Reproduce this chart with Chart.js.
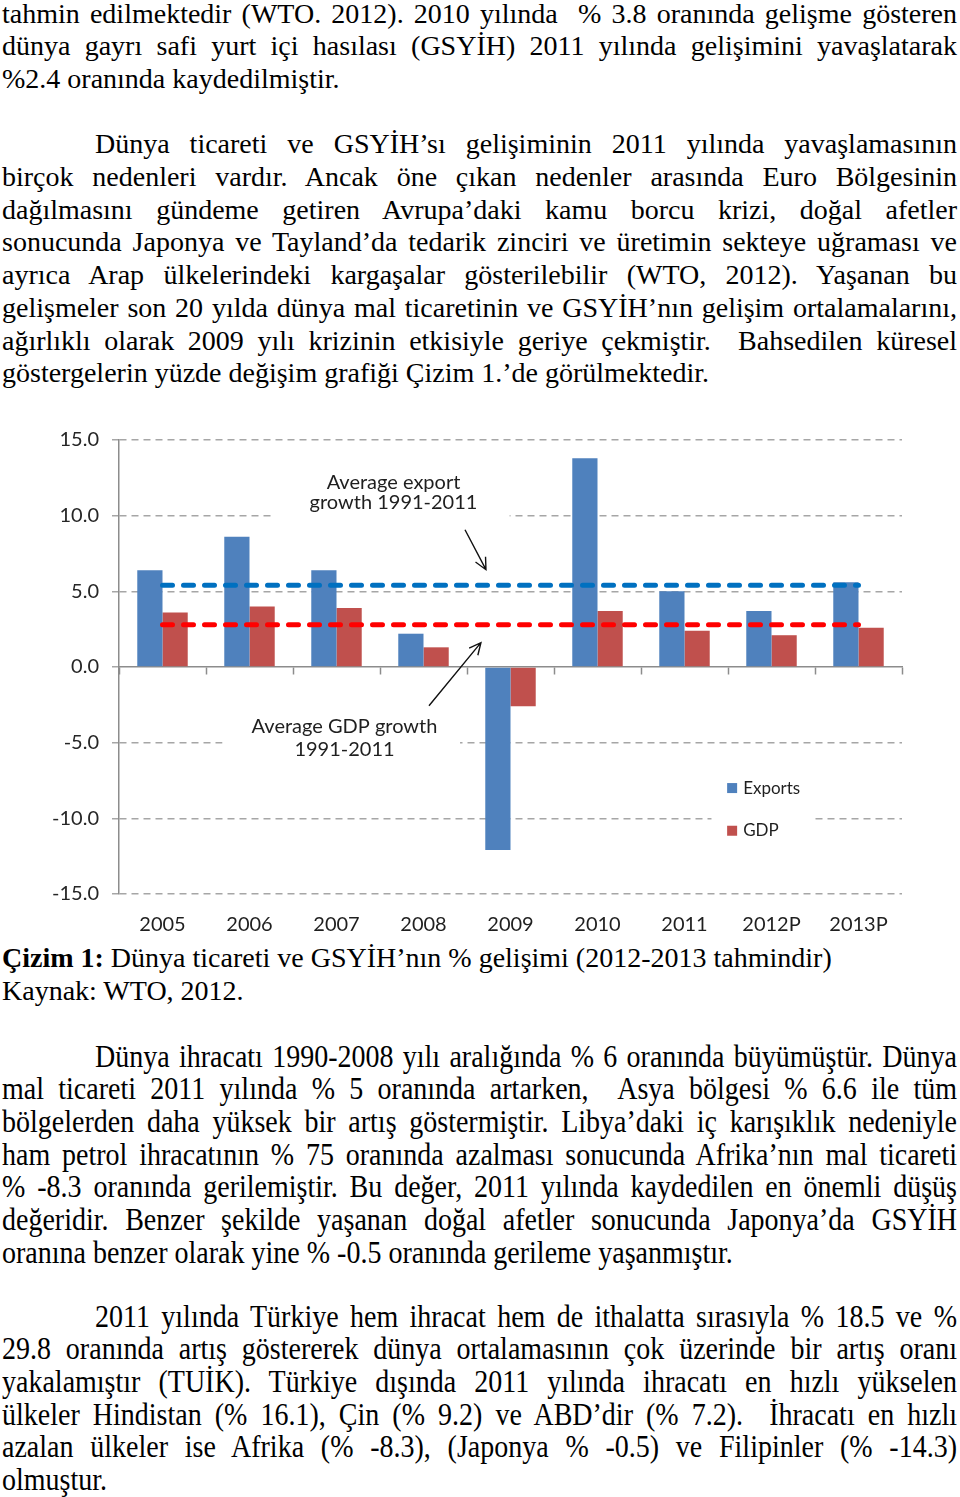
<!DOCTYPE html>
<html lang="tr">
  <head>
    <meta charset="UTF-8" />
    <title>Çizim 1: Dünya ticareti ve GSYİH’nın % gelişimi</title>
    <script src="https://cdn.jsdelivr.net/npm/chart.js"></script>
    <style>
      body {
        margin: 0;
        width: 960px;
        height: 1497px;
        position: relative;
        overflow: hidden;
        background: #fff;
        color: #000;
        font-family: "Liberation Serif", "Times New Roman", serif;
      }
      .line {
        position: absolute;
        left: 2px;
        width: 955px;
        height: 33px;
        line-height: 33px;
        font-size: 28px;
        white-space: nowrap;
      }
      .line.indent {
        left: 95px;
        width: 862px;
      }
      .line.just {
        white-space: normal;
        text-align: justify;
        text-align-last: justify;
      }
      /* the lower paragraphs are a bit taller in the scan */
      .line.tall {
        transform: scaleY(1.1);
        transform-origin: 0 26px;
      }
      #chartBox {
        position: absolute;
        left: 0;
        top: 420px;
        width: 960px;
        height: 525px;
      }
    </style>
  </head>
  <body>
    <div id="text"></div>
    <div id="chartBox"><canvas id="growthChart"></canvas></div>

    <script>
      // chart data
      var years = ["2005", "2006", "2007", "2008", "2009", "2010", "2011", "2012P", "2013P"];
      var exportsGrowth = [6.4, 8.6, 6.4, 2.2, -12.1, 13.8, 5.0, 3.7, 5.6];
      var gdpGrowth = [3.6, 4.0, 3.9, 1.3, -2.6, 3.7, 2.4, 2.1, 2.6];
      var avgExportGrowth = [5.4, 5.4, 5.4, 5.4, 5.4, 5.4, 5.4, 5.4, 5.4];
      var avgGdpGrowth = [2.8, 2.8, 2.8, 2.8, 2.8, 2.8, 2.8, 2.8, 2.8];
      var yTicks = [-15, -10, -5, 0, 5, 10, 15];

      // page text, one entry per printed line: [text, indent, justified]
      var block1 = [
        ["tahmin edilmektedir (WTO. 2012). 2010 yılında &nbsp;% 3.8 oranında gelişme gösteren", 0, 1],
        ["dünya gayrı safi yurt içi hasılası (GSYİH) 2011 yılında gelişimini yavaşlatarak", 0, 1],
        ["%2.4 oranında kaydedilmiştir.", 0, 0],
        null,
        ["Dünya ticareti ve GSYİH’sı gelişiminin 2011 yılında yavaşlamasının", 1, 1],
        ["birçok nedenleri vardır. Ancak öne çıkan nedenler arasında Euro Bölgesinin", 0, 1],
        ["dağılmasını gündeme getiren Avrupa’daki kamu borcu krizi, doğal afetler", 0, 1],
        ["sonucunda Japonya ve Tayland’da tedarik zinciri ve üretimin sekteye uğraması ve", 0, 1],
        ["ayrıca Arap ülkelerindeki kargaşalar gösterilebilir (WTO, 2012). Yaşanan bu", 0, 1],
        ["gelişmeler son 20 yılda dünya mal ticaretinin ve GSYİH’nın gelişim ortalamalarını,", 0, 1],
        ["ağırlıklı olarak 2009 yılı krizinin etkisiyle geriye çekmiştir. &nbsp;Bahsedilen küresel", 0, 1],
        ["göstergelerin yüzde değişim grafiği Çizim 1.’de görülmektedir.", 0, 0],
      ];
      var caption = [
        ["<b>Çizim 1:</b> Dünya ticareti ve GSYİH’nın % gelişimi (2012-2013 tahmindir)", 0, 0],
        ["Kaynak: WTO, 2012.", 0, 0],
      ];
      var block2 = [
        ["Dünya ihracatı 1990-2008 yılı aralığında % 6 oranında büyümüştür. Dünya", 1, 1],
        ["mal ticareti 2011 yılında % 5 oranında artarken, &nbsp;Asya bölgesi % 6.6 ile tüm", 0, 1],
        ["bölgelerden daha yüksek bir artış göstermiştir. Libya’daki iç karışıklık nedeniyle", 0, 1],
        ["ham petrol ihracatının % 75 oranında azalması sonucunda Afrika’nın mal ticareti", 0, 1],
        ["% -8.3 oranında gerilemiştir. Bu değer, 2011 yılında kaydedilen en önemli düşüş", 0, 1],
        ["değeridir. Benzer şekilde yaşanan doğal afetler sonucunda Japonya’da GSYİH", 0, 1],
        ["oranına benzer olarak yine % -0.5 oranında gerileme yaşanmıştır.", 0, 0],
      ];
      var block3 = [
        ["2011 yılında Türkiye hem ihracat hem de ithalatta sırasıyla % 18.5 ve %", 1, 1],
        ["29.8 oranında artış göstererek dünya ortalamasının çok üzerinde bir artış oranı", 0, 1],
        ["yakalamıştır (TUİK). Türkiye dışında 2011 yılında ihracatı en hızlı yükselen", 0, 1],
        ["ülkeler Hindistan (% 16.1), Çin (% 9.2) ve ABD’dir (% 7.2). &nbsp;İhracatı en hızlı", 0, 1],
        ["azalan ülkeler ise Afrika (% -8.3), (Japonya % -0.5) ve Filipinler (% -14.3)", 0, 1],
        ["olmuştur.", 0, 0],
      ];

      var textBox = document.getElementById("text");
      function addBlock(lines, firstBaseline, step, tall) {
        lines.forEach(function (l, i) {
          if (!l) return;
          var d = document.createElement("div");
          d.className = "line" + (l[1] ? " indent" : "") + (l[2] ? " just" : "") + (tall ? " tall" : "");
          d.style.top = (firstBaseline + i * step - 26) + "px";
          d.innerHTML = l[0];
          textBox.appendChild(d);
        });
      }
      addBlock(block1, 22.5, 32.7, false);
      addBlock(caption, 967, 32.7, false);
      addBlock(block2, 1066.7, 32.65, true);
      addBlock(block3, 1326.7, 32.6, true);

      Chart.defaults.font.family = "Lato, 'Open Sans', sans-serif";
      Chart.defaults.color = "#262626";

      var axisGrey = "#8c8c8c";
      var gridGrey = "#a6a6a6";

      // text labels, arrows and legend drawn inside the plot
      var annotations = {
        id: "annotations",
        beforeDatasetsDraw: function (chart) {
          var ctx = chart.ctx;
          var xs = chart.scales.x;
          var ys = chart.scales.y;
          var px = function (i) { return xs.getPixelForValue(i); };
          var py = function (v) { return ys.getPixelForValue(v); };
          ctx.save();

          // white boxes behind labels and legend hide the grid
          ctx.fillStyle = "#fff";
          [
            [1.29, 13.0, 3.99, 9.6],
            [0.69, -2.95, 3.42, -6.26],
            [6.31, -6.9, 7.5, -11.7],
          ].forEach(function (b) {
            ctx.fillRect(px(b[0]), py(b[1]), px(b[2]) - px(b[0]), py(b[3]) - py(b[1]));
          });

          ctx.fillStyle = "#1f1f1f";
          ctx.font = "20px Lato";
          ctx.textAlign = "center";
          ctx.textBaseline = "middle";
          ctx.fillText("Average export", px(2.655), py(12.18));
          ctx.fillText("growth 1991-2011", px(2.655), py(10.86));
          ctx.fillText("Average GDP growth", px(2.092), py(-3.95));
          ctx.fillText("1991-2011", px(2.092), py(-5.47));

          function arrow(x1, y1, x2, y2) {
            var a = Math.atan2(y2 - y1, x2 - x1);
            var h = 13;
            ctx.beginPath();
            ctx.moveTo(x1, y1);
            ctx.lineTo(x2, y2);
            ctx.moveTo(x2 - h * Math.cos(a - 0.45), y2 - h * Math.sin(a - 0.45));
            ctx.lineTo(x2, y2);
            ctx.lineTo(x2 - h * Math.cos(a + 0.45), y2 - h * Math.sin(a + 0.45));
            ctx.stroke();
          }
          ctx.strokeStyle = "#111";
          ctx.lineWidth = 1.4;
          arrow(px(3.477), py(9.07), px(3.718), py(6.43));
          arrow(px(3.063), py(-2.56), px(3.66), py(1.61));

          // legend
          var items = [
            [chart.data.datasets[2], -8.0],
            [chart.data.datasets[3], -10.82],
          ];
          ctx.font = "17px Lato";
          ctx.textAlign = "left";
          items.forEach(function (it) {
            var y = py(it[1]);
            ctx.fillStyle = it[0].backgroundColor;
            ctx.fillRect(px(6.49), y - 5, 10, 10);
            ctx.fillStyle = "#1f1f1f";
            ctx.fillText(it[0].label, px(6.49) + 16, y);
          });
          ctx.restore();
        },
      };

      new Chart(document.getElementById("growthChart").getContext("2d"), {
        type: "bar",
        data: {
          labels: years,
          datasets: [
            {
              type: "line",
              label: "Average export growth 1991-2011",
              data: avgExportGrowth,
              borderColor: "#0070c0",
              borderWidth: 5,
              borderDash: [10, 11],
              borderCapStyle: "round",
              pointRadius: 0,
              fill: false,
              xAxisID: "x",
              order: 1,
            },
            {
              type: "line",
              label: "Average GDP growth 1991-2011",
              data: avgGdpGrowth,
              borderColor: "#ff0000",
              borderWidth: 5,
              borderDash: [10, 11],
              borderCapStyle: "round",
              pointRadius: 0,
              fill: false,
              xAxisID: "x",
              order: 1,
            },
            {
              label: "Exports",
              data: exportsGrowth,
              backgroundColor: "#4f81bd",
              categoryPercentage: 0.58,
              barPercentage: 1,
              xAxisID: "x",
              order: 2,
            },
            {
              label: "GDP",
              data: gdpGrowth,
              backgroundColor: "#c0504d",
              categoryPercentage: 0.58,
              barPercentage: 1,
              xAxisID: "x",
              order: 2,
            },
          ],
        },
        options: {
          responsive: true,
          maintainAspectRatio: false,
          animation: false,
          layout: { padding: { top: 20, right: 58, bottom: 0, left: 0 } },
          plugins: {
            legend: { display: false },
            tooltip: { enabled: false },
          },
          scales: {
            y: {
              min: -15,
              max: 15,
              afterBuildTicks: function (scale) {
                scale.ticks = yTicks.map(function (v) { return { value: v }; });
              },
              afterFit: function (scale) {
                scale.width = 119;
                // plot top/bottom come from layout padding and the year-label axis
                scale.paddingTop = 0;
                scale.paddingBottom = 0;
              },
              ticks: {
                font: { size: 20 },
                color: "#262626",
                padding: 13,
                callback: function (v) { return v.toFixed(1); },
              },
              grid: {
                color: function (c) { return c.tick && c.tick.value === 0 ? "rgba(0,0,0,0)" : gridGrey; },
                lineWidth: 1.5,
                tickLength: 7,
                tickColor: gridGrey,
                tickWidth: 1.5,
              },
              border: { display: true, color: axisGrey, width: 1.5, dash: [7, 5] },
            },
            // category axis drawn along the zero line
            x: {
              type: "category",
              position: { y: 0 },
              offset: true,
              ticks: { display: false },
              grid: {
                offset: true,
                drawOnChartArea: false,
                drawTicks: true,
                tickLength: 7,
                tickColor: axisGrey,
                tickWidth: 1.5,
              },
              border: { display: true, color: axisGrey, width: 1.5 },
            },
            // year labels at the bottom
            x2: {
              type: "category",
              position: "bottom",
              labels: years,
              offset: true,
              grid: { display: false, drawTicks: false },
              border: { display: false },
              afterFit: function (scale) {
                scale.height = 51;
              },
              ticks: {
                font: { size: 20 },
                color: "#1f1f1f",
                padding: 19,
                maxRotation: 0,
                autoSkip: false,
              },
            },
          },
        },
        plugins: [annotations],
      });
    </script>
  </body>
</html>
